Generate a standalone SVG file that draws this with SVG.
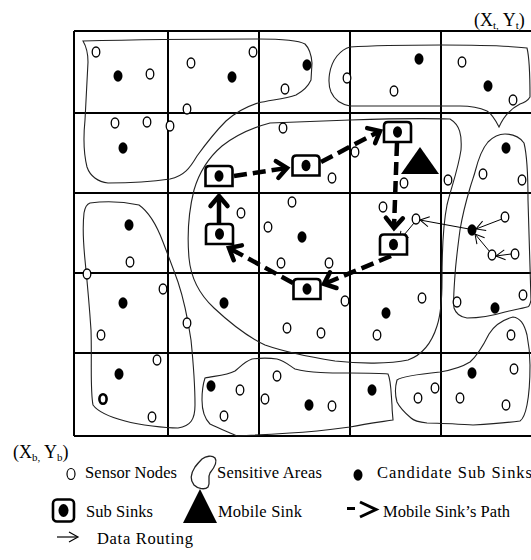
<svg xmlns="http://www.w3.org/2000/svg" width="531" height="560" viewBox="0 0 531 560">
<style>
.grid{stroke:#000;stroke-width:2;fill:none}
.area{stroke:#222;stroke-width:1.1;fill:none}
.s{fill:#fff;stroke:#000;stroke-width:1.3}
.c{fill:#000}
.box{fill:#fff;stroke:#000;stroke-width:2.6}
.path{stroke:#000;stroke-width:4.5;fill:none;stroke-dasharray:13 6}
.solid{stroke:#000;stroke-width:4.5;fill:none}
.route{stroke:#000;stroke-width:1;fill:none}
text{font-family:"Liberation Serif","Times New Roman",serif;fill:#000}
</style>
<defs>
<marker id="chev" markerUnits="userSpaceOnUse" viewBox="-15 -15 30 30" markerWidth="30" markerHeight="30" refX="0" refY="0" orient="auto" overflow="visible">
<path d="M-10,-8.5 L0,0 L-10,8.5" fill="none" stroke="#000" stroke-width="4.5" stroke-linecap="round"/>
</marker>
<marker id="thin" markerUnits="userSpaceOnUse" viewBox="-12 -8 14 16" markerWidth="14" markerHeight="16" refX="0" refY="0" orient="auto" overflow="visible">
<path d="M-9,-5 L0,0 L-9,5" fill="none" stroke="#000" stroke-width="1"/>
</marker>
<g id="sub">
<path class="box" d="M-13.5,10 L-13.5,-6 Q-13.5,-10 -9.5,-10 L9.5,-10 Q13.5,-10 13.5,-6 L13.5,10 Z"/>
<ellipse cx="0" cy="0" rx="4.5" ry="5.8" class="c"/>
</g>
</defs>
<rect width="531" height="560" fill="#fff"/>

<g id="grid">
<path class="grid" d="M74,31 H531 M74,113 H531 M74,193 H531 M74,273 H531 M74,353 H531 M74,436 H531 M74,31 V436 M168,31 V436 M259,31 V436 M350,31 V436 M441,31 V436"/>
</g>

<g id="sensitive-areas">
<path id="areaA" class="area" d="M83,41 C120,40 200,39 258,39 C280,39 298,40 305,44 Q311,50 312,63 L311,80 Q307,89 296,95 C285,99 270,100 258,103 C245,107 235,113 226,121 C214,133 205,145 197,156 C190,168 184,176 170,179 C150,182 125,183 108,183 C98,182 90,176 87,167 C84,155 83,140 85,120 C86,100 87,80 88,62 C88,52 86,46 83,41 Z"/>
<path id="areaB" class="area" d="M350,47 C380,45 420,45 442,45 C480,45 510,46 527,48 C530,60 530,85 530,97 Q527,102 520,104 C512,108 504,116 499,127 C495,119 492,114 487,111 C478,107 468,106 460,106 L350,106 C340,104 334,99 331,92 C327,82 329,66 337,56 C342,50 346,48 350,47 Z"/>
<path id="areaC" class="area" d="M270,123 C255,127 236,135 222,146 C208,158 199,173 194,190 C189,210 187,235 189,258 C191,280 200,295 214,308 C230,323 246,336 265,345 C285,352 310,357 335,361 C360,364 390,364 408,360 C422,355 432,342 437,326 C441,314 442,300 442,280 C442,250 443,225 447,205 C451,188 458,170 461,150 C462,135 460,125 450,119 C420,118 380,119 350,120 C320,121 295,122 270,123 Z"/>
<path id="areaD" class="area" d="M90,203 C105,201 125,202 139,205 C149,212 157,226 163,242 C168,255 173,268 178,282 C184,300 188,320 191,340 C193,360 195,385 195,405 C195,419 191,426 178,428 C165,428 140,425 125,421 C110,417 98,412 93,405 C90,390 92,360 91,330 C89,300 87,280 85,260 C83,240 83,222 84,213 C85,207 87,204 90,203 Z"/>
<path id="areaE" class="area" d="M205,378 C212,376 226,376 235,371 C240,367 244,362 252,359 C260,358 270,358 277,359 C285,361 290,366 295,369 C310,373 330,373 350,373 C365,373 380,373 388,374 C391,380 391,392 392,405 C392,412 393,418 393,420 C380,422 365,424 350,427 C335,429 310,432 290,433 C275,434 260,435 237,436 C228,432 218,428 210,424 C204,418 202,410 202,400 C202,390 203,384 205,378 Z"/>
<path id="areaF" class="area" d="M397,380 C401,377 420,374 440,372 C452,370 462,367 470,362 C478,355 484,344 489,334 C494,326 502,320 513,317 C520,318 524,323 527,335 C529,345 530,355 530,365 C530,380 529,395 527,405 C525,415 523,419 520,421 C505,423 490,424 473,425 C455,424 440,423 427,423 C418,422 414,421 411,418 C405,413 400,408 397,402 C395,395 395,387 397,380 Z"/>
<path id="areaG" class="area" d="M475,172 C478,160 481,150 488,142 C493,137 498,134 505,134 C512,134 519,136 524,143 C527,155 528,180 528,200 C529,230 530,260 531,300 C530,305 528,307 527,307 C520,309 512,310 505,312 C495,315 480,318 467,318 C460,317 456,314 454,308 C453,300 454,290 455,275 C456,260 458,245 460,230 C463,212 467,198 470,188 C472,181 474,176 475,172 Z"/>
</g>

<g id="connectors">
<line class="path" x1="234" y1="176" x2="287" y2="168" marker-end="url(#chev)"/>
<line class="path" x1="321" y1="162" x2="380" y2="131" marker-end="url(#chev)"/>
<line class="path" x1="397" y1="143" x2="394" y2="228" marker-end="url(#chev)"/>
<line class="path" x1="391" y1="256" x2="324" y2="284" marker-end="url(#chev)"/>
<line class="path" x1="293" y1="283" x2="229" y2="248" marker-end="url(#chev)"/>
<line class="solid" x1="219" y1="224" x2="219" y2="196" marker-end="url(#chev)"/>
<line class="route" x1="469" y1="229" x2="420" y2="220" marker-end="url(#thin)"/>
<line class="route" x1="414" y1="223" x2="399" y2="241" marker-end="url(#thin)"/>
<line class="route" x1="502" y1="219" x2="476" y2="229" marker-end="url(#thin)"/>
<line class="route" x1="490" y1="252" x2="475" y2="234" marker-end="url(#thin)"/>
<line class="route" x1="511" y1="254" x2="496" y2="256" marker-end="url(#thin)"/>
</g>

<g id="sensors">
<ellipse class="s" cx="96" cy="52" rx="3.8" ry="5"/>
<ellipse class="s" cx="150" cy="74" rx="3.8" ry="5"/>
<ellipse class="s" cx="191" cy="63" rx="3.8" ry="5"/>
<ellipse class="s" cx="253" cy="52" rx="3.8" ry="5"/>
<ellipse class="s" cx="285" cy="89" rx="3.8" ry="5"/>
<ellipse class="s" cx="347" cy="78" rx="3.8" ry="5"/>
<ellipse class="s" cx="394" cy="91" rx="3.8" ry="5"/>
<ellipse class="s" cx="462" cy="62" rx="3.8" ry="5"/>
<ellipse class="s" cx="513" cy="100" rx="3.8" ry="5"/>
<ellipse class="s" cx="187" cy="109" rx="3.8" ry="5"/>
<ellipse class="s" cx="115" cy="123" rx="3.8" ry="5"/>
<ellipse class="s" cx="147" cy="122" rx="3.8" ry="5"/>
<ellipse class="s" cx="170" cy="126" rx="3.8" ry="5"/>
<ellipse class="s" cx="283" cy="128" rx="3.8" ry="5"/>
<ellipse class="s" cx="332" cy="178" rx="3.8" ry="5"/>
<ellipse class="s" cx="355" cy="152" rx="3.8" ry="5"/>
<ellipse class="s" cx="404" cy="183" rx="3.8" ry="5"/>
<ellipse class="s" cx="448" cy="180" rx="3.8" ry="5"/>
<ellipse class="s" cx="483" cy="174" rx="3.8" ry="5"/>
<ellipse class="s" cx="522" cy="180" rx="3.8" ry="5"/>
<ellipse class="s" cx="130" cy="262" rx="3.8" ry="5"/>
<ellipse class="s" cx="87" cy="274" rx="3.8" ry="5"/>
<ellipse class="s" cx="241" cy="213" rx="3.8" ry="5"/>
<ellipse class="s" cx="268" cy="227" rx="3.8" ry="5"/>
<ellipse class="s" cx="292" cy="202" rx="3.8" ry="5"/>
<ellipse class="s" cx="281" cy="263" rx="3.8" ry="5"/>
<ellipse class="s" cx="329" cy="263" rx="3.8" ry="5"/>
<ellipse class="s" cx="383" cy="207" rx="3.8" ry="5"/>
<ellipse class="s" cx="416" cy="219" rx="3.8" ry="5"/>
<ellipse class="s" cx="505" cy="217" rx="3.8" ry="5"/>
<ellipse class="s" cx="492" cy="255" rx="3.8" ry="5"/>
<ellipse class="s" cx="515" cy="254" rx="3.8" ry="5"/>
<ellipse class="s" cx="163" cy="289" rx="3.8" ry="5"/>
<ellipse class="s" cx="101" cy="335" rx="3.8" ry="5"/>
<ellipse class="s" cx="187" cy="323" rx="3.8" ry="5"/>
<ellipse class="s" cx="345" cy="301" rx="3.8" ry="5"/>
<ellipse class="s" cx="287" cy="328" rx="3.8" ry="5"/>
<ellipse class="s" cx="321" cy="333" rx="3.8" ry="5"/>
<ellipse class="s" cx="422" cy="298" rx="3.8" ry="5"/>
<ellipse class="s" cx="377" cy="335" rx="3.8" ry="5"/>
<ellipse class="s" cx="457" cy="302" rx="3.8" ry="5"/>
<ellipse class="s" cx="523" cy="295" rx="3.8" ry="5"/>
<ellipse class="s" cx="511" cy="335" rx="3.8" ry="5"/>
<ellipse class="s" cx="157" cy="360" rx="3.8" ry="5"/>
<ellipse class="s" cx="152" cy="417" rx="3.8" ry="5"/>
<ellipse class="s" cx="240" cy="390" rx="3.8" ry="5"/>
<ellipse class="s" cx="224" cy="416" rx="3.8" ry="5"/>
<ellipse class="s" cx="265" cy="399" rx="3.8" ry="5"/>
<ellipse class="s" cx="277" cy="376" rx="3.8" ry="5"/>
<ellipse class="s" cx="332" cy="406" rx="3.8" ry="5"/>
<ellipse class="s" cx="418" cy="398" rx="3.8" ry="5"/>
<ellipse class="s" cx="435" cy="388" rx="3.8" ry="5"/>
<ellipse class="s" cx="514" cy="369" rx="3.8" ry="5"/>
<ellipse class="s" cx="460" cy="398" rx="3.8" ry="5"/>
<ellipse class="s" cx="506" cy="405" rx="3.8" ry="5"/>
<ellipse class="s" cx="103" cy="399" rx="3.6" ry="4.8" style="stroke-width:2.6"/>
</g>

<g id="candidate-sub-sinks">
<ellipse class="c" cx="118" cy="76" rx="4.5" ry="5.8"/>
<ellipse class="c" cx="232" cy="77" rx="4.5" ry="5.8"/>
<ellipse class="c" cx="307" cy="65" rx="4.5" ry="5.8"/>
<ellipse class="c" cx="419" cy="59" rx="4.5" ry="5.8"/>
<ellipse class="c" cx="488" cy="86" rx="4.5" ry="5.8"/>
<ellipse class="c" cx="123" cy="148" rx="4.5" ry="5.8"/>
<ellipse class="c" cx="506" cy="148" rx="4.5" ry="5.8"/>
<ellipse class="c" cx="129" cy="225" rx="4.5" ry="5.8"/>
<ellipse class="c" cx="302" cy="237" rx="4.5" ry="5.8"/>
<ellipse class="c" cx="472" cy="230" rx="4.5" ry="5.8"/>
<ellipse class="c" cx="123" cy="303" rx="4.5" ry="5.8"/>
<ellipse class="c" cx="224" cy="303" rx="4.5" ry="5.8"/>
<ellipse class="c" cx="386" cy="313" rx="4.5" ry="5.8"/>
<ellipse class="c" cx="495" cy="308" rx="4.5" ry="5.8"/>
<ellipse class="c" cx="119" cy="374" rx="4.5" ry="5.8"/>
<ellipse class="c" cx="211" cy="386" rx="4.5" ry="5.8"/>
<ellipse class="c" cx="309" cy="405" rx="4.5" ry="5.8"/>
<ellipse class="c" cx="372" cy="390" rx="4.5" ry="5.8"/>
<ellipse class="c" cx="472" cy="373" rx="4.5" ry="5.8"/>
</g>

<g id="subsink1"><use href="#sub" transform="translate(219,176)"/></g>
<g id="subsink2"><use href="#sub" transform="translate(306,165.5)"/></g>
<g id="subsink3"><use href="#sub" transform="translate(397.5,132)"/></g>
<g id="subsink4"><use href="#sub" transform="translate(393.5,244.5)"/></g>
<g id="subsink5"><use href="#sub" transform="translate(307,289)"/></g>
<g id="subsink6"><use href="#sub" transform="translate(219.5,234)"/></g>

<g id="mobile-sink"><polygon points="401,174 420,147 439,174" fill="#000"/></g>

<g id="corner-labels">
<text x="474" y="26" font-size="18">(X<tspan font-size="11" dy="3">t,</tspan><tspan dy="-3"> Y</tspan><tspan font-size="11" dy="3">t</tspan><tspan dy="-3">)</tspan></text>
<text x="13" y="458" font-size="18">(X<tspan font-size="11" dy="3">b,</tspan><tspan dy="-3"> Y</tspan><tspan font-size="11" dy="3">b</tspan><tspan dy="-3">)</tspan></text>
</g>

<g id="legend">
<ellipse cx="71" cy="474" rx="4" ry="5.5" fill="none" stroke="#000" stroke-width="1.2"/>
<text x="85" y="478" font-size="16.5" textLength="92">Sensor Nodes</text>
<path class="area" d="M202,459 C206,456 212,455 215,458 C218,462 214,468 210,473 C207,478 211,483 208,487 C205,490 198,489 194,485 C190,480 191,473 195,467 C198,463 200,461 202,459 Z" style="stroke-width:1.3"/>
<text x="217" y="478" font-size="16.5" textLength="105">Sensitive Areas</text>
<ellipse cx="358" cy="475" rx="4.5" ry="5.8" fill="#000"/>
<text x="377" y="478" font-size="16.5" textLength="155">Candidate Sub Sinks</text>
<rect x="53" y="499.5" width="21" height="22" rx="4" fill="#fff" stroke="#000" stroke-width="2.6"/>
<ellipse cx="63.5" cy="510.5" rx="5" ry="6.5" fill="#000"/>
<text x="86" y="517" font-size="16.5" textLength="67">Sub Sinks</text>
<polygon points="183,523 200,489 217,523" fill="#000"/>
<text x="218" y="517" font-size="16.5" textLength="84">Mobile Sink</text>
<line x1="347" y1="508.5" x2="355" y2="508.5" stroke="#000" stroke-width="3"/>
<path d="M360,502 L376,509.5 L360,517" fill="none" stroke="#000" stroke-width="3"/>
<text x="383" y="517" font-size="16.5" textLength="127">Mobile Sink’s Path</text>
<line x1="57" y1="537" x2="77" y2="537" stroke="#000" stroke-width="1.2"/>
<path d="M69,532 L78,537 L69,542" fill="none" stroke="#000" stroke-width="1.2"/>
<text x="97" y="544" font-size="16.5" textLength="96">Data Routing</text>
</g>
</svg>
